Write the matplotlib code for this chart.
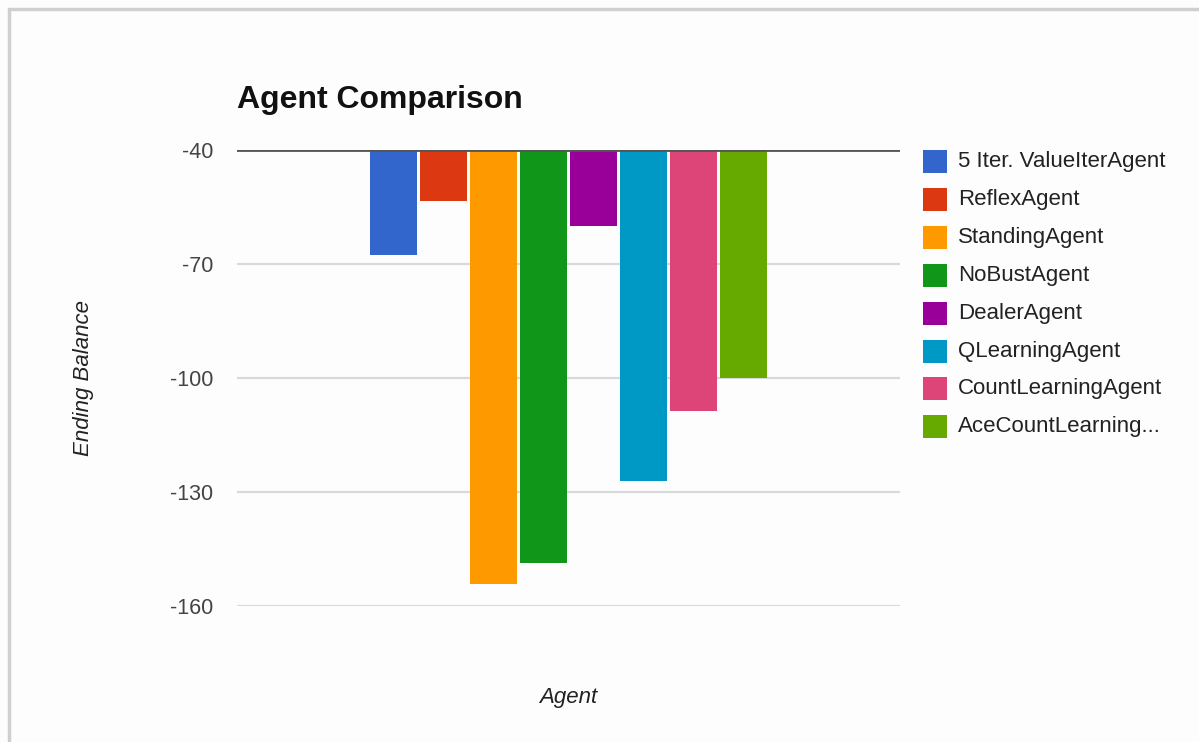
import matplotlib
matplotlib.use("Agg")
import matplotlib.pyplot as plt
from matplotlib.patches import Rectangle
from matplotlib.lines import Line2D
import numpy as np

plt.rcParams['font.family'] = ['Liberation Sans', 'DejaVu Sans']

# Ending balance per agent
agents = ["5 Iter. ValueIterAgent", "ReflexAgent", "StandingAgent", "NoBustAgent",
          "DealerAgent", "QLearningAgent", "CountLearningAgent", "AceCountLearning..."]
balances = [-67.7, -53.4, -154.1, -148.7, -59.9, -127.1, -108.7, -100.0]
colors = ["#3366cc", "#dc3912", "#ff9900", "#109618",
          "#990099", "#0099c6", "#dd4477", "#66aa00"]
y_ticks = [-40, -70, -100, -130, -160]
baseline = -40

W, H = 1199, 742
fig = plt.figure(figsize=(W / 100, H / 100), dpi=100)
fig.patch.set_facecolor("#fdfdfd")

# light frame along the top and left edges
fig.add_artist(Line2D([8.5 / W, 8.5 / W, 1.0], [0.0, 1 - 8.5 / H, 1 - 8.5 / H],
                      transform=fig.transFigure, color="#cfcfcf", lw=2.5,
                      solid_joinstyle="miter", solid_capstyle="butt"))

left, right, top, bottom = 237, 900, 150, 606
ax = fig.add_axes([left / W, 1 - bottom / H, (right - left) / W, (bottom - top) / H])
ax.set_facecolor("#fdfdfd")

x = np.arange(len(agents)) - (len(agents) - 1) / 2
heights = [b - baseline for b in balances]
ax.bar(x, heights, bottom=baseline, width=0.94, color=colors, zorder=3, linewidth=0)

ax.set_xlim(-6.63, 6.63)
ax.set_ylim(min(y_ticks), max(y_ticks))
ax.set_yticks(y_ticks)
ax.set_yticklabels([str(t) for t in y_ticks])
ax.set_xticks([])
ax.tick_params(axis='y', length=0, pad=17, labelsize=15.5, labelcolor="#444444")
for s in ax.spines.values():
    s.set_visible(False)
ax.yaxis.grid(True, color="#d9d9d9", lw=1.6, zorder=0)
ax.axhline(baseline, color="#555555", lw=2, zorder=4)

ax.set_title("Agent Comparison", loc="left", fontsize=23, fontweight="bold",
             color="#111111", pad=30)

ax.set_ylabel("Ending Balance", fontsize=16, style="italic", color="#222222")
ax.yaxis.set_label_coords((84 - left) / (right - left), 0.5)
ax.yaxis.label.set_va("center")
ax.set_xlabel("Agent", fontsize=16, style="italic", color="#222222")
ax.xaxis.set_label_coords(0.5, -(697 - bottom) / (bottom - top))
ax.xaxis.label.set_va("center")

# legend column on the right
for i, (name, c) in enumerate(zip(agents, colors)):
    yc = 161.5 + i * 37.9
    fig.add_artist(Rectangle((923 / W, 1 - (yc + 11.5) / H), 24 / W, 23 / H,
                             transform=fig.transFigure, facecolor=c, edgecolor="none"))
    fig.text(958 / W, 1 - yc / H, name, fontsize=16, color="#222222",
             ha="left", va="center")

fig.savefig("out.png", dpi=100, facecolor=fig.get_facecolor())
